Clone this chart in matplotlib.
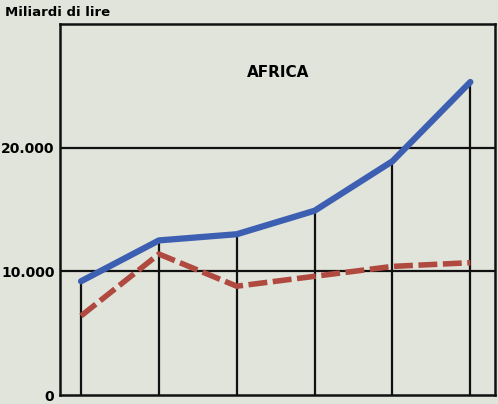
import matplotlib.pyplot as plt

# years are not labelled on the chart, just six equally spaced points
points = [0, 1, 2, 3, 4, 5]
totale = [9200, 12500, 13000, 14900, 18900, 25300]
altro = [6400, 11400, 8800, 9600, 10400, 10700]
yticks = [0, 10000, 20000]
ytick_labels = ["0", "10.000", "20.000"]

bg = "#e1e4db"
fig = plt.figure(figsize=(4.98, 4.04), dpi=100, facecolor=bg)
ax = fig.add_axes([0.1205, 0.022, 0.874, 0.919], facecolor=bg)

ax.set_xlim(-0.27, 5.32)
ax.set_ylim(0, 30000)

for y in yticks[1:]:
    ax.axhline(y, color="#111111", lw=1.6, zorder=1)
ax.vlines(points, 0, totale, color="#111111", lw=1.6, zorder=1)

ax.plot(points, totale, color="#3d5fb2", lw=4.5, solid_capstyle="round", zorder=3)
ax.plot(points, altro, color="#b04a40", lw=4, dashes=(3.4, 1.0), zorder=3)

ax.set_yticks(yticks)
ax.set_yticklabels(ytick_labels, fontsize=10, fontweight="bold")
ax.set_xticks([])
ax.tick_params(axis="y", length=0, pad=4)

for side in ["left", "top", "bottom", "right"]:
    ax.spines[side].set_color("#111111")
    ax.spines[side].set_linewidth(1.8)

ax.text(0.5, 0.87, "AFRICA", transform=ax.transAxes, ha="center", va="center",
        fontsize=11, fontweight="bold")
fig.text(0.01, 0.97, "Miliardi di lire", ha="left", va="center",
         fontsize=9.5, fontweight="bold")

fig.savefig("out.png", dpi=100, facecolor=bg)
